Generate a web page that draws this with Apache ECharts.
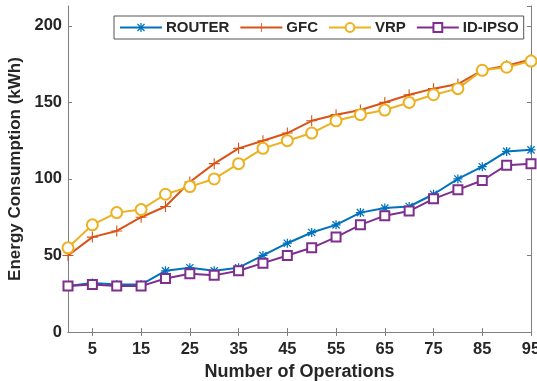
<!DOCTYPE html>
<html>
<head>
<meta charset="utf-8">
<script src="https://cdn.jsdelivr.net/npm/echarts@6/dist/echarts.min.js"></script>
<style>html,body{margin:0;padding:0;background:#fff}#c{width:537px;height:381px}</style>
</head>
<body>
<div id="c"></div>
<script>
const operations = ['0','5','10','15','20','25','30','35','40','45','50','55','60','65','70','75','80','85','90','95'];
const router = [30,32,31,31,40,42,40,42,50,58,65,70,78,81,82,90,100,108,118,119];
const gfc    = [50,62,66,75,82,98,110,120,125,130,138,142,145,150,155,159,162,171,174,178];
const vrp    = [55,70,78,80,90,95,100,110,120,125,130,138,142,145,150,155,159,171,173,177];
const idipso = [30,31,30,30,35,38,37,40,45,50,55,62,70,76,79,87,93,99,109,110];
const yTicks = [0,50,100,150,200];

const asterisk = 'path://M0,8.6L20,8.6L20,11.4L0,11.4Z M8.6,0L11.4,0L11.4,20L8.6,20Z M3.0,1.0L19.0,17.0L17.0,19.0L1.0,3.0Z M17.0,1.0L19.0,3.0L3.0,19.0L1.0,17.0Z';
const plus = 'path://M0,9L20,9L20,11L0,11Z M9,0L11,0L11,20L9,20Z';

const axisColor = '#7f7f7f';
const labelFont = {fontFamily:'Liberation Sans, Arial, sans-serif', fontWeight:'bold', color:'#262626'};

const chart = echarts.init(document.getElementById('c'), null, {renderer:'canvas'});
chart.setOption({
  animation:false,
  backgroundColor:'#fff',
  grid:{left:68, right:6, top:6, bottom:49, containLabel:false, outerBoundsMode:'none'},
  legend:{
    left:114, top:16,
    orient:'horizontal',
    itemWidth:42, itemHeight:11, itemGap:10,
    padding:[4,5],
    borderColor:'#555', borderWidth:1,
    backgroundColor:'#fff',
    textStyle:Object.assign({fontSize:15, padding:[0,0,0,-1]}, labelFont),
    data:['ROUTER','GFC','VRP','ID-IPSO']
  },
  xAxis:[{
    type:'category', data:operations, boundaryGap:false,
    name:'Number of Operations', nameLocation:'middle', nameGap:29,
    nameTextStyle:Object.assign({fontSize:18}, labelFont),
    axisLine:{show:true, lineStyle:{color:axisColor, width:1}},
    axisTick:{show:true, inside:true, length:4, interval:(i)=>i%2===1, lineStyle:{color:axisColor}},
    axisLabel:Object.assign({fontSize:16.5, margin:9, interval:(i)=>i%2===1}, labelFont),
    splitLine:{show:false}
  },{
    type:'category', data:operations, boundaryGap:false, position:'top',
    axisLine:{show:true, lineStyle:{color:axisColor, width:1}},
    axisTick:{show:true, inside:true, length:4, interval:(i)=>i%2===1, lineStyle:{color:axisColor}},
    axisLabel:{show:false}, splitLine:{show:false}
  }],
  yAxis:[{
    type:'value', min:0, max:213, interval:50,
    name:'Energy Consumption (kWh)', nameLocation:'middle', nameGap:33,
    nameTextStyle:Object.assign({fontSize:17}, labelFont),
    axisLine:{show:true, lineStyle:{color:axisColor, width:1}},
    axisTick:{show:true, inside:true, length:4, lineStyle:{color:axisColor}},
    axisLabel:Object.assign({fontSize:16.5, margin:6, showMaxLabel:false,
      formatter:(v)=> yTicks.indexOf(v)>=0 ? String(v) : ''}, labelFont),
    splitLine:{show:false}
  },{
    type:'value', min:0, max:213, interval:50, position:'right',
    axisLine:{show:true, lineStyle:{color:axisColor, width:1}},
    axisTick:{show:true, inside:true, length:4, lineStyle:{color:axisColor}},
    axisLabel:{show:false}, splitLine:{show:false}
  }],
  series:[
    {name:'ROUTER', type:'line', data:router, color:'#0072BD',
     symbol:asterisk, symbolSize:9, lineStyle:{width:2},
     itemStyle:{color:'#0072BD', borderWidth:0}},
    {name:'GFC', type:'line', data:gfc, color:'#D95319',
     symbol:plus, symbolSize:11, lineStyle:{width:2},
     itemStyle:{color:'#D95319', borderWidth:0}},
    {name:'VRP', type:'line', data:vrp, color:'#EDB120',
     symbol:'emptyCircle', symbolSize:11, lineStyle:{width:2},
     itemStyle:{color:'#EDB120', borderWidth:1.6}},
    {name:'ID-IPSO', type:'line', data:idipso, color:'#7E2F8E',
     symbol:'emptyRect', symbolSize:9, lineStyle:{width:2},
     itemStyle:{color:'#7E2F8E', borderWidth:1.4}}
  ]
});
</script>
</body>
</html>
